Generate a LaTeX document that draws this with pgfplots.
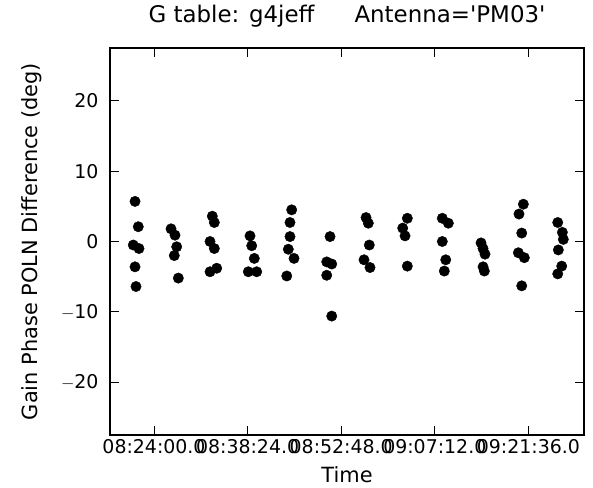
\documentclass[border=0pt]{standalone}
\usepackage{pgfplots}
\pgfplotsset{compat=1.18}
\usepackage{fontspec}
\setmainfont{DejaVu Sans}
\begin{document}
\begin{tikzpicture}
\begin{axis}[
  scale only axis,
  width=474bp, height=387bp,
  xmin=-6.77, xmax=66.15,
  ymin=-27.5, ymax=27.5,
  xtick={0,14.4,28.8,43.2,57.6},
  xticklabels={08:24:00.0,08:38:24.0,08:52:48.0,09:07:12.0,09:21:36.0},
  ytick={-20,-10,0,10,20},
  yticklabels={$-$20,$-$10,0,10,20},
  tick align=inside,
  major tick length=9bp,
  minor tick num=0,
  axis line style={line width=1.3bp},
  every tick/.style={black, line width=0.9bp},
  xticklabel style={font=\fontsize{19}{22}\selectfont, anchor=center, yshift=-12bp},
  yticklabel style={font=\fontsize{19}{22}\selectfont, anchor=east, xshift=-8bp},
  /pgf/number format/assume math mode=true,
  title={G table: g4jeff\hspace{1.75em}Antenna=\textquotesingle PM03\textquotesingle},
  title style={font=\fontsize{23}{27}\selectfont, at={(axis description cs:0.5,1)}, anchor=center, yshift=26bp},
  xlabel={Time},
  ylabel={Gain Phase POLN Difference (deg)},
  every axis x label/.style={at={(axis description cs:0.5,0)}, anchor=center, yshift=-40bp, font=\fontsize{21}{25}\selectfont},
  every axis y label/.style={at={(axis description cs:0,0.5)}, anchor=center, rotate=90, yshift=78bp, font=\fontsize{21}{25}\selectfont},
  clip=false,
]
\addplot[only marks, mark=*, mark size=5.2bp, black, mark options={fill=black, draw=black}] coordinates {
(-2.92,5.7) (-2.42,2.1) (-3.19,-0.5) (-2.31,-1.0) (-2.92,-3.6) (-2.77,-6.4)
(2.62,1.8) (3.23,0.9) (3.49,-0.75) (3.12,-2.0) (3.74,-5.2)
(8.97,3.6) (9.28,2.7) (8.62,0.0) (9.28,-1.0) (8.62,-4.3) (9.65,-3.8)
(14.77,0.8) (15.03,-0.6) (15.43,-2.4) (14.51,-4.3) (15.80,-4.3)
(21.18,4.5) (20.92,2.7) (20.92,0.7) (20.66,-1.1) (21.54,-2.4) (20.42,-4.9)
(27.08,0.7) (26.57,-2.9) (27.34,-3.2) (26.57,-4.8) (27.34,-10.6)
(32.62,3.4) (32.97,2.6) (33.12,-0.5) (32.31,-2.6) (33.23,-3.7)
(38.97,3.3) (38.26,1.9) (38.62,0.8) (38.97,-3.5)
(44.35,3.3) (45.28,2.6) (44.35,0.0) (44.88,-2.6) (44.66,-4.2)
(50.31,-0.2) (50.62,-1.0) (50.92,-1.8) (50.62,-3.6) (50.82,-4.2)
(56.82,5.3) (56.15,3.9) (56.57,1.2) (56.05,-1.6) (56.97,-2.3) (56.57,-6.3)
(62.11,2.7) (62.82,1.3) (62.97,0.3) (62.20,-1.2) (62.72,-3.5) (62.11,-4.6)
};
\end{axis}
\pgfresetboundingbox
\path (current axis.south west) ++(-110bp,-53bp) coordinate (bbA);
\path (current axis.north east) ++(9bp,48bp) coordinate (bbB);
\path[use as bounding box] (bbA) rectangle (bbB);
\end{tikzpicture}
\end{document}
